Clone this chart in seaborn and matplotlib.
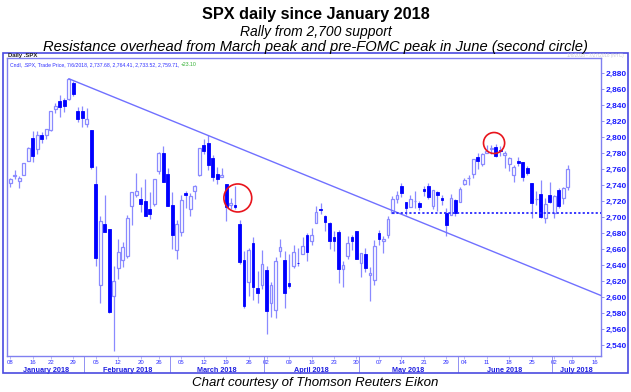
import numpy as np
import pandas as pd
import matplotlib
matplotlib.use("Agg")
import matplotlib.pyplot as plt
from matplotlib.patches import Ellipse, Rectangle
import seaborn as sns

# Trading days Jan 8 - Jul 6 2018 (US market holidays removed)
holidays = ["2018-01-15", "2018-02-19", "2018-03-30", "2018-05-28", "2018-07-04"]
dates = pd.bdate_range("2018-01-08", "2018-07-06")
dates = dates[~dates.isin(pd.to_datetime(holidays))]

opens = [2742.67, 2751.15, 2745.55, 2752.97, 2770.18, 2798.96, 2784.99, 2802.40, 2802.60, 2809.16,
         2835.05, 2845.42, 2846.24, 2847.48, 2867.23, 2832.74, 2832.41,
         2816.45, 2808.92, 2741.06, 2614.78, 2690.95, 2685.01, 2601.78, 2636.75, 2646.27, 2651.21,
         2713.46, 2727.14, 2722.99, 2720.53, 2710.42, 2715.80, 2757.37, 2780.45, 2753.78,
         2715.22, 2658.89, 2681.06, 2730.18, 2710.18, 2732.75, 2752.91, 2790.54, 2792.31, 2774.06,
         2754.27, 2750.57, 2741.38, 2715.05, 2714.99, 2691.36, 2646.71, 2619.35, 2667.57, 2611.30, 2614.41,
         2633.45, 2592.17, 2584.04, 2657.36, 2645.82, 2617.18, 2638.41, 2643.08, 2653.83, 2676.90,
         2670.10, 2692.74, 2710.11, 2701.16, 2692.56, 2675.40, 2680.80, 2634.92, 2651.65, 2675.47, 2682.51,
         2642.96, 2654.24, 2628.08, 2621.45, 2680.34, 2670.26, 2678.12, 2705.02, 2722.70, 2738.47,
         2718.59, 2712.62, 2719.71, 2717.35, 2735.39, 2738.34, 2713.98, 2730.94, 2723.60, 2705.11, 2702.43, 2720.98,
         2718.70, 2741.67, 2748.46, 2753.25, 2774.84, 2765.84, 2780.18, 2785.60, 2787.94, 2783.21,
         2777.78, 2765.79, 2752.01, 2769.73, 2769.28, 2760.79, 2742.94, 2722.12, 2728.45, 2698.69, 2727.13,
         2704.95, 2733.27, 2724.19, 2737.68]
highs = [2748.51, 2759.14, 2750.80, 2767.56, 2787.85, 2807.54, 2807.04, 2805.83, 2810.33, 2833.03,
         2842.24, 2852.97, 2848.56, 2872.87, 2870.62, 2837.75, 2839.26,
         2835.96, 2808.92, 2763.39, 2701.04, 2727.67, 2685.27, 2638.67, 2672.61, 2668.84, 2702.10,
         2731.51, 2754.42, 2737.60, 2747.75, 2731.26, 2747.76, 2780.64, 2789.15, 2761.52,
         2730.89, 2696.25, 2728.09, 2732.08, 2730.60, 2740.45, 2786.57, 2796.98, 2801.90, 2777.11,
         2763.03, 2761.85, 2741.38, 2724.22, 2739.14, 2695.68, 2657.67, 2661.36, 2674.78, 2632.65, 2659.07,
         2638.30, 2619.14, 2649.86, 2672.08, 2656.88, 2653.55, 2665.45, 2661.43, 2674.72, 2680.26,
         2686.49, 2713.34, 2717.49, 2702.84, 2693.94, 2682.86, 2683.55, 2645.30, 2676.48, 2677.35, 2682.87,
         2655.27, 2660.87, 2637.14, 2670.93, 2683.35, 2676.34, 2701.27, 2726.11, 2732.86, 2742.10,
         2718.59, 2727.76, 2731.96, 2719.50, 2739.19, 2742.24, 2733.33, 2731.97, 2727.36, 2710.67, 2729.34, 2722.50,
         2736.93, 2749.16, 2752.61, 2772.39, 2779.90, 2779.39, 2790.21, 2789.80, 2791.47, 2789.06,
         2782.81, 2774.99, 2765.05, 2774.86, 2769.28, 2764.17, 2742.94, 2732.91, 2746.09, 2724.34, 2743.26,
         2727.26, 2736.58, 2737.83, 2764.41]
lows = [2737.60, 2747.86, 2736.06, 2752.78, 2769.64, 2768.64, 2778.38, 2792.56, 2798.08, 2808.12,
        2830.59, 2824.81, 2830.94, 2846.18, 2851.48, 2818.27, 2813.04,
        2812.70, 2759.97, 2638.17, 2593.07, 2681.33, 2580.56, 2532.69, 2622.45, 2637.08, 2648.87,
        2689.82, 2725.11, 2706.76, 2701.29, 2697.77, 2713.74, 2753.78, 2744.22, 2713.54,
        2659.65, 2647.32, 2675.75, 2711.26, 2701.74, 2721.88, 2751.54, 2779.26, 2758.68, 2744.38,
        2741.47, 2749.97, 2694.59, 2710.05, 2709.79, 2641.59, 2585.89, 2601.81, 2596.12, 2593.06, 2609.72,
        2553.80, 2575.49, 2573.61, 2649.58, 2586.27, 2610.79, 2635.78, 2639.25, 2653.83, 2645.05,
        2665.16, 2692.05, 2703.63, 2681.90, 2660.61, 2657.99, 2617.32, 2612.67, 2647.16, 2659.01, 2648.04,
        2625.41, 2631.70, 2594.62, 2615.32, 2664.70, 2655.20, 2674.14, 2704.54, 2717.45, 2725.47,
        2701.91, 2712.17, 2711.36, 2709.18, 2725.70, 2721.88, 2709.54, 2707.38, 2714.99, 2676.81, 2702.43, 2700.68,
        2718.70, 2740.54, 2739.51, 2748.46, 2760.16, 2763.59, 2780.17, 2778.78, 2774.65, 2776.52,
        2761.73, 2757.12, 2743.19, 2763.91, 2744.39, 2752.68, 2698.67, 2715.60, 2698.95, 2691.99, 2718.03,
        2698.95, 2711.16, 2716.02, 2733.52]
closes = [2747.71, 2751.29, 2748.23, 2767.56, 2786.24, 2776.42, 2802.56, 2798.03, 2810.30, 2832.97,
          2839.13, 2837.54, 2839.25, 2872.87, 2853.53, 2822.43, 2823.81,
          2821.98, 2762.13, 2648.94, 2695.14, 2681.66, 2581.00, 2619.55, 2656.00, 2662.94, 2698.63,
          2731.20, 2732.22, 2716.26, 2701.33, 2703.96, 2747.30, 2779.60, 2744.28, 2713.83,
          2677.67, 2691.25, 2720.94, 2728.12, 2726.80, 2738.97, 2786.57, 2783.02, 2765.31, 2749.48,
          2747.33, 2752.01, 2712.92, 2716.94, 2711.93, 2643.69, 2588.26, 2658.55, 2612.62, 2605.00, 2640.87,
          2581.88, 2614.45, 2644.69, 2662.84, 2604.47, 2613.16, 2656.87, 2642.19, 2663.99, 2656.30,
          2677.84, 2706.39, 2708.64, 2693.13, 2670.14, 2670.29, 2634.56, 2639.40, 2666.94, 2669.91, 2648.05,
          2654.80, 2635.67, 2629.73, 2663.42, 2672.63, 2671.92, 2697.79, 2723.07, 2727.72, 2730.13,
          2711.45, 2722.46, 2720.13, 2712.97, 2733.01, 2724.44, 2733.29, 2727.76, 2721.33, 2689.86, 2724.01, 2705.27,
          2734.62, 2746.87, 2748.80, 2772.35, 2770.37, 2779.03, 2782.00, 2786.85, 2775.63, 2782.49,
          2779.66, 2773.75, 2762.59, 2767.32, 2749.76, 2754.88, 2717.07, 2723.06, 2699.63, 2716.31, 2718.37,
          2726.71, 2713.22, 2736.61, 2759.71]

# x-axis tick days and month labels
tick_days = ["2018-01-08", "2018-01-16", "2018-01-22", "2018-01-29", "2018-02-05", "2018-02-12",
             "2018-02-20", "2018-02-26", "2018-03-05", "2018-03-12", "2018-03-19", "2018-03-26",
             "2018-04-02", "2018-04-09", "2018-04-16", "2018-04-23", "2018-04-30", "2018-05-07",
             "2018-05-14", "2018-05-21", "2018-05-29", "2018-06-04", "2018-06-11", "2018-06-18",
             "2018-06-25", "2018-07-02", "2018-07-09", "2018-07-16"]
months = ["January 2018", "February 2018", "March 2018", "April 2018", "May 2018", "June 2018", "July 2018"]
yticks = list(range(2540, 2881, 20))

support_level = 2704.54        # May 10 low
support_start = "2018-05-10"
trend_anchors = ["2018-01-26", "2018-03-13"]   # highs joined by the trendline
circles = [(50.6, 2723.8, 6.2, 35.0), (107.6, 2792.5, 4.7, 26.2)]  # idx, value, w, h

df = pd.DataFrame({"date": dates, "open": opens, "high": highs, "low": lows, "close": closes})
df["idx"] = np.arange(len(df))
df["up"] = df["close"] >= df["open"]

sns.set_theme(style="white")
plt.rcParams["font.family"] = ["Liberation Sans", "DejaVu Sans"]

W, H = 631, 392
fig = plt.figure(figsize=(W / 100, H / 100), dpi=100)

# pixel geometry of the plot frame
L, R, T, B = 7, 601, 58, 356
x0, dx = 10.3, 4.496
y0px, vref, ppp = 73, 2880, 0.8
ax = fig.add_axes([L / W, 1 - B / H, (R - L) / W, (B - T) / H])
ax.set_xlim((L - x0) / dx, (R - x0) / dx)
ax.set_ylim(vref - (B - y0px) / ppp, vref + (y0px - T) / ppp)

blue = "#0000ff"
light = "#8a8aff"

# wicks
ax.vlines(df["idx"], df["low"], df["high"], color=light, lw=0.9, zorder=2)
# bodies
body = (df["close"] - df["open"]).abs().clip(lower=0.8)
base = df[["open", "close"]].min(axis=1)
up = df[df["up"]]
dn = df[~df["up"]]
ax.bar(up["idx"], body[df["up"]], bottom=base[df["up"]], width=0.62,
       color="white", edgecolor=light, linewidth=0.9, zorder=3)
ax.bar(dn["idx"], body[~df["up"]], bottom=base[~df["up"]], width=0.62,
       color=blue, edgecolor=blue, linewidth=0.6, zorder=3)

# trendline through two highs, extended to the right edge
i1 = df.index[df["date"] == trend_anchors[0]][0]
i2 = df.index[df["date"] == trend_anchors[1]][0]
slope = (df.loc[i2, "high"] - df.loc[i1, "high"]) / (i2 - i1)
xe = ax.get_xlim()[1]
trend = pd.DataFrame({"x": [i1, xe], "y": [df.loc[i1, "high"], df.loc[i1, "high"] + slope * (xe - i1)]})
sns.lineplot(data=trend, x="x", y="y", ax=ax, color="#7070ff", lw=1.0, zorder=4)

# support line
s0 = df.index[df["date"] == support_start][0]
sup = pd.DataFrame({"x": [s0, xe], "y": [support_level, support_level]})
sns.lineplot(data=sup, x="x", y="y", ax=ax, color="#2a2aff", lw=1.3,
             linestyle=(0, (1.2, 1.2)), zorder=4)

for cx, cy, cw, ch in circles:
    ax.add_patch(Ellipse((cx, cy), cw, ch, fill=False, ec="#e8141c", lw=1.2, zorder=5))

# axes styling
for s in ["top", "left", "bottom", "right"]:
    ax.spines[s].set_color("#8080f0")
    ax.spines[s].set_linewidth(1.0)
ax.set_xlabel("")
ax.set_ylabel("")
ax.yaxis.tick_right()
ax.set_yticks(yticks)
ax.set_yticklabels([f"{v:,}" for v in yticks], fontsize=6, fontweight="bold", color="#1a1aff")
ax.tick_params(axis="y", length=2, width=0.6, color="#8080f0", pad=1.5, right=True)

all_days = pd.bdate_range("2018-01-08", "2018-07-20")
all_days = all_days[~all_days.isin(pd.to_datetime(holidays))]
tick_idx = [int(np.where(all_days == pd.Timestamp(d))[0][0]) for d in tick_days]
ax.set_xticks(tick_idx)
ax.set_xticklabels([d[-2:] for d in tick_days], fontsize=4.3, color="#3030ff")
ax.tick_params(axis="x", length=2, width=0.5, color="#a0a0f0", pad=1, bottom=True)

# month labels and separators
mon = df.groupby(df["date"].dt.month)["idx"].agg(["min", "max"])
bounds = list(mon["min"].values[1:] - 0.5)
edges = [ax.get_xlim()[0]] + bounds + [xe]
tr = ax.get_xaxis_transform()
for k, name in enumerate(months):
    ax.text((edges[k] + edges[k + 1]) / 2, -0.038, name, transform=tr, ha="center", va="top",
            fontsize=5.2, fontweight="bold", color="#2020e0")
for b in bounds:
    ax.plot([b, b], [0, -0.055], transform=tr, color="#8080f0", lw=0.6, clip_on=False)

# header texts inside chart panel
fig.text(8 / W, 1 - 55.5 / H, "Daily .SPX", fontsize=4.3, fontweight="bold", color="#202020", va="center")
t = ax.text(0.005, 0.985, "Cndl, .SPX, Trade Price, 7/6/2018, 2,737.68, 2,764.41, 2,733.52, 2,759.71, ",
            transform=ax.transAxes, fontsize=3.7, color="#3030ff", va="top")
fig.canvas.draw()
bb = t.get_window_extent().transformed(ax.transAxes.inverted())
ax.text(bb.x1, 0.985, "+23.10", transform=ax.transAxes, fontsize=3.7, color="#30b030", va="top")
fig.text(624 / W, 1 - 56 / H, "1/8/2018 - 7/27/2018 (NYC)", fontsize=3.3, color="#c8c8d8",
         ha="right", va="center")

# outer panel border
fig.add_artist(Rectangle((3 / W, 1 - 373 / H), 625 / W, 320 / H, transform=fig.transFigure,
                         fill=False, ec="#4a4ae0", lw=1.2))

# titles
fig.text(0.5, 1 - 15 / H, "SPX daily since January 2018", ha="center", va="center",
         fontsize=11.7, fontweight="bold", color="black")
fig.text(0.5, 1 - 32 / H, "Rally from 2,700 support", ha="center", va="center",
         fontsize=10.0, style="italic", color="black")
fig.text(0.5, 1 - 46.5 / H, "Resistance overhead from March peak and pre-FOMC peak in June (second circle)",
         ha="center", va="center", fontsize=10.6, style="italic", color="black")
fig.text(0.5, 1 - 383 / H, "Chart courtesy of Thomson Reuters Eikon", ha="center", va="center",
         fontsize=9.5, style="italic", color="black")

fig.savefig("out.png", dpi=100)
